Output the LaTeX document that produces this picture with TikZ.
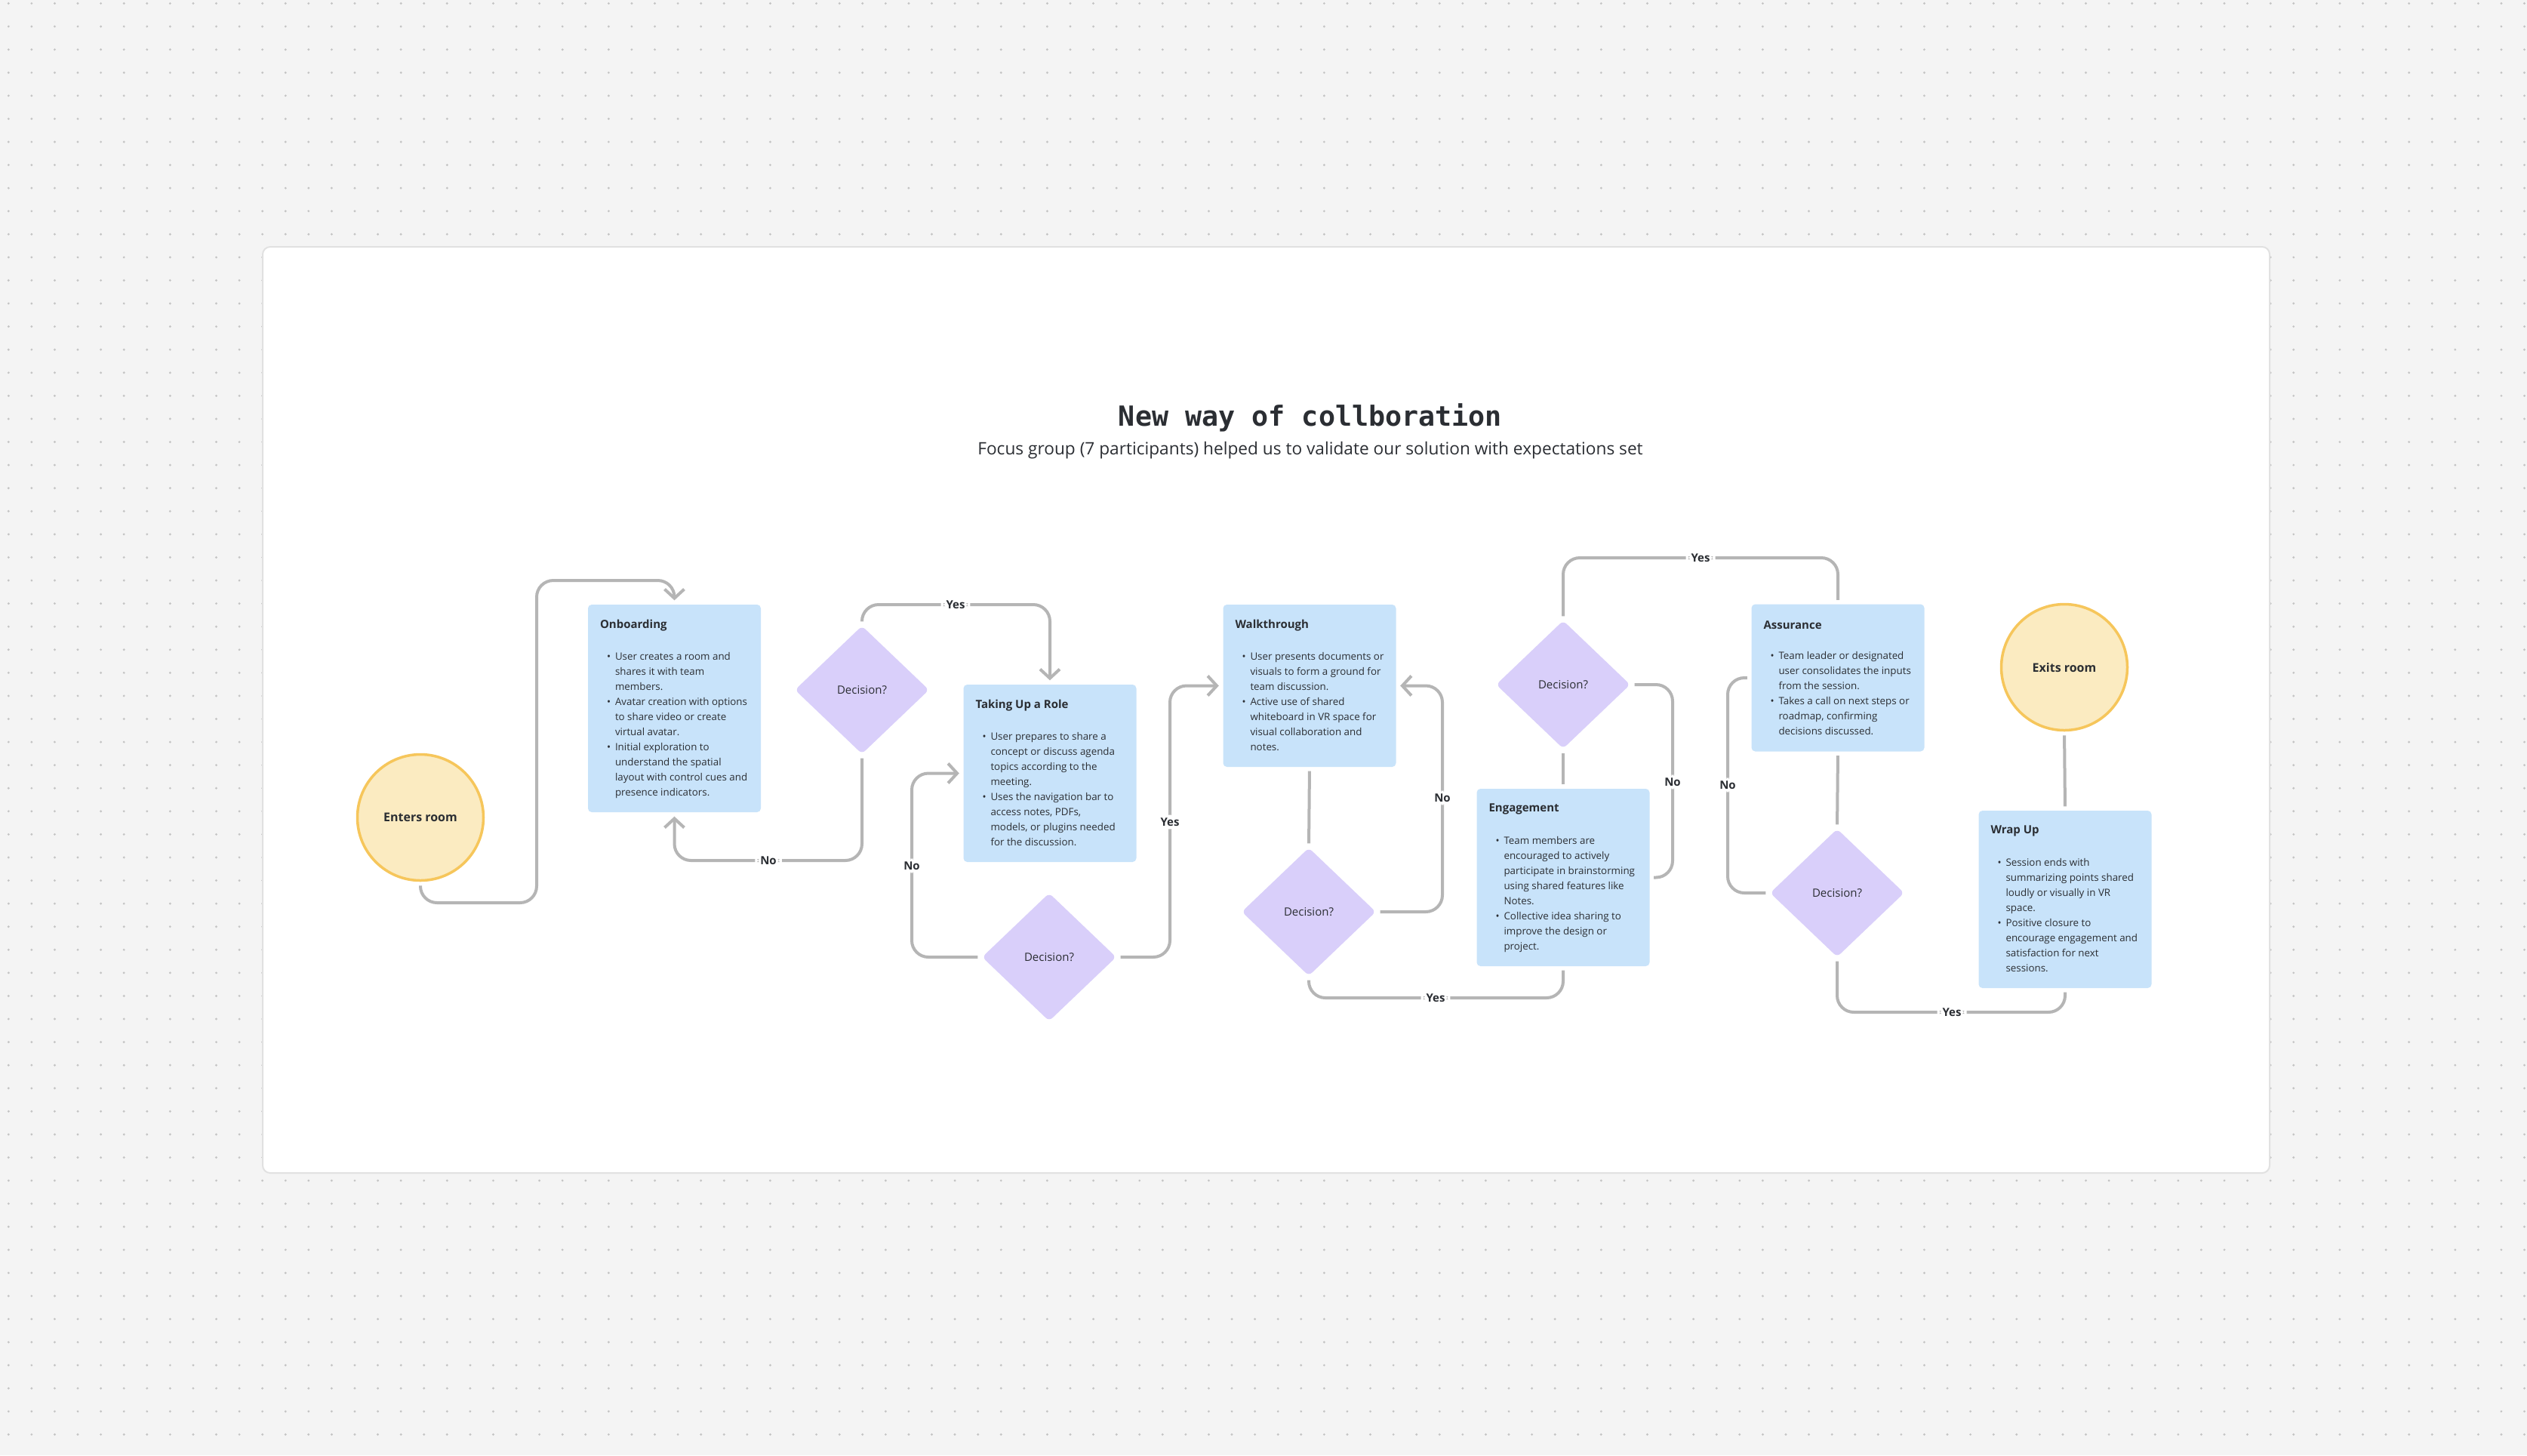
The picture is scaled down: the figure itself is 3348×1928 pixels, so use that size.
\documentclass[tikz,border=0pt]{standalone}
\usepackage{fontspec}
\setmainfont{Open Sans}
\newfontfamily\monofont{DejaVu Sans Mono}
\usepackage{tikz}
\usetikzlibrary{arrows.meta,shapes.geometric}
\definecolor{Paper}{HTML}{F4F4F4}
\definecolor{Dot}{HTML}{C4C4C4}
\definecolor{CardLine}{HTML}{E1E1E1}
\definecolor{Ink}{HTML}{2B2E33}
\definecolor{Wire}{HTML}{B5B5B5}
\definecolor{StageBlue}{HTML}{C8E3FA}
\definecolor{Lilac}{HTML}{D9CFFA}
\definecolor{Cream}{HTML}{FBEBC1}
\definecolor{Honey}{HTML}{F6C65B}
\newcommand{\bl}{\makebox[1.1mm][l]{\textbullet}}
\newcommand{\ct}{\hspace*{1.1mm}}
\tikzset{
  stagebox/.style={fill=StageBlue,rounded corners=0.5mm,minimum width=22.9mm,inner sep=0pt},
  stagehead/.style={anchor=west,inner sep=0pt,text=Ink,font=\bfseries\fontsize{4.27pt}{5pt}\selectfont},
  stagetext/.style={anchor=north west,inner sep=0pt,align=left,text=Ink,font=\fontsize{3.8pt}{5.69pt}\selectfont},
  decision/.style={diamond,fill=Lilac,rounded corners=0.6mm,minimum width=17.8mm,minimum height=17mm,
    inner sep=0pt,text=Ink,font=\fontsize{4.27pt}{5pt}\selectfont},
  terminal/.style={circle,fill=Cream,draw=Honey,line width=0.35mm,minimum size=16.7mm,inner sep=0pt,
    text=Ink,font=\bfseries\fontsize{4.55pt}{5pt}\selectfont},
  wire/.style={draw=Wire,line width=0.4mm,rounded corners=2.2mm,shorten <=0.5mm,shorten >=0.5mm},
  arrow/.style={wire,-{Straight Barb[length=1.2mm,width=2.6mm]}},
  answer/.style={fill=white,inner xsep=0.7mm,inner ysep=0.4mm,text=Ink,font=\bfseries\fontsize{4.27pt}{5pt}\selectfont}
}
\newcommand{\stagecard}[5]{%
  \node[stagebox,minimum height=#3] (#1) at (#2) {};
  \node[stagehead] (#1head) at ([shift={(16,28)}]#1.north west) {#4};
  \node[stagetext] (#1text) at ([shift={(25,63)}]#1.north west) {#5};
}

\begin{document}
\begin{tikzpicture}[x=0.1mm,y=-0.1mm]
  \fill[Paper] (0,0) rectangle (3348,1928);
  \useasboundingbox (0,0) rectangle (3348,1928);
  \foreach \i in {0,...,109}
    \foreach \j in {0,...,62}
      \fill[Dot] (11.3+30.58*\i,4.5+30.58*\j) circle (1.6);
  \draw[CardLine,fill=white,line width=0.2mm,rounded corners=1mm] (348,327) rectangle (3007,1554);

  \node[font=\monofont\bfseries\fontsize{10.44pt}{12pt}\selectfont,text=Ink] (title) at (1736,553)
    {New way of collboration};
  \node[font=\fontsize{6.45pt}{7pt}\selectfont,text=Ink] (subtitle) at (1736,597)
    {Focus group (7 participants) helped us to validate our solution with expectations set};

  % start and end
  \node[terminal] (enter) at (557,1083) {Enters room};
  \node[terminal] (exit) at (2735,884) {Exits room};

  % stages
  \stagecard{onboard}{893.5,938.5}{27.5mm}{Onboarding}{%
    \bl User creates a room and\\ \ct shares it with team\\ \ct members.\\
    \bl Avatar creation with options\\ \ct to share video or create\\ \ct virtual avatar.\\
    \bl Initial exploration to\\ \ct understand the spatial\\ \ct layout with control cues and\\ \ct presence indicators.}
  \stagecard{takeup}{1391,1024.5}{23.5mm}{Taking Up a Role}{%
    \bl User prepares to share a\\ \ct concept or discuss agenda\\ \ct topics according to the\\ \ct meeting.\\
    \bl Uses the navigation bar to\\ \ct access notes, PDFs,\\ \ct models, or plugins needed\\ \ct for the discussion.}
  \stagecard{walk}{1735,908.5}{21.5mm}{Walkthrough}{%
    \bl User presents documents or\\ \ct visuals to form a ground for\\ \ct team discussion.\\
    \bl Active use of shared\\ \ct whiteboard in VR space for\\ \ct visual collaboration and\\ \ct notes.}
  \stagecard{engage}{2071,1162.5}{23.5mm}{Engagement}{%
    \bl Team members are\\ \ct encouraged to actively\\ \ct participate in brainstorming\\ \ct using shared features like\\ \ct Notes.\\
    \bl Collective idea sharing to\\ \ct improve the design or\\ \ct project.}
  \stagecard{assure}{2435,898}{19.5mm}{Assurance}{%
    \bl Team leader or designated\\ \ct user consolidates the inputs\\ \ct from the session.\\
    \bl Takes a call on next steps or\\ \ct roadmap, confirming\\ \ct decisions discussed.}
  \stagecard{wrap}{2736,1191.5}{23.5mm}{Wrap Up}{%
    \bl Session ends with\\ \ct summarizing points shared\\ \ct loudly or visually in VR\\ \ct space.\\
    \bl Positive closure to\\ \ct encourage engagement and\\ \ct satisfaction for next\\ \ct sessions.}

  % decisions
  \node[decision] (d1) at (1142,914) {Decision?};
  \node[decision] (d2) at (1390,1268) {Decision?};
  \node[decision] (d3) at (1734,1208) {Decision?};
  \node[decision] (d4) at (2071,907) {Decision?};
  \node[decision] (d5) at (2434,1183) {Decision?};

  % connectors
  \draw[arrow] (enter.south) |- (711,1196) -- (711,769) -| (onboard.north);
  \draw[arrow] (d1.south) |- (1018,1140) node[answer] {No} -| (onboard.south);
  \draw[arrow] (d1.north) |- (1266,801) node[answer] {Yes} -| (takeup.north);
  \draw[arrow] (d2.west) -| (1208,1147) node[answer] {No} |- (takeup.west);
  \draw[arrow] (d2.east) -| (1550,1089) node[answer] {Yes} |- (walk.west);
  \draw[wire] (walk.south) -- (d3.north);
  \draw[arrow] (d3.east) -| (1911,1057) node[answer] {No} |- (walk.east);
  \draw[wire] (d3.south) |- (1902,1322) node[answer] {Yes} -| (engage.south);
  \draw[wire] (engage.north) -- (d4.south);
  \draw[wire] (d4.east) -| (2216,1036) node[answer] {No} |- (engage.east);
  \draw[wire] (d4.north) |- (2253,739) node[answer] {Yes} -| (assure.north);
  \draw[wire] (assure.south) -- (d5.north);
  \draw[wire] (d5.west) -| (2289,1040) node[answer] {No} |- (assure.west);
  \draw[wire] (d5.south) |- (2586,1341) node[answer] {Yes} -| (wrap.south);
  \draw[wire] (wrap.north) -- (exit.south);
\end{tikzpicture}
\end{document}
